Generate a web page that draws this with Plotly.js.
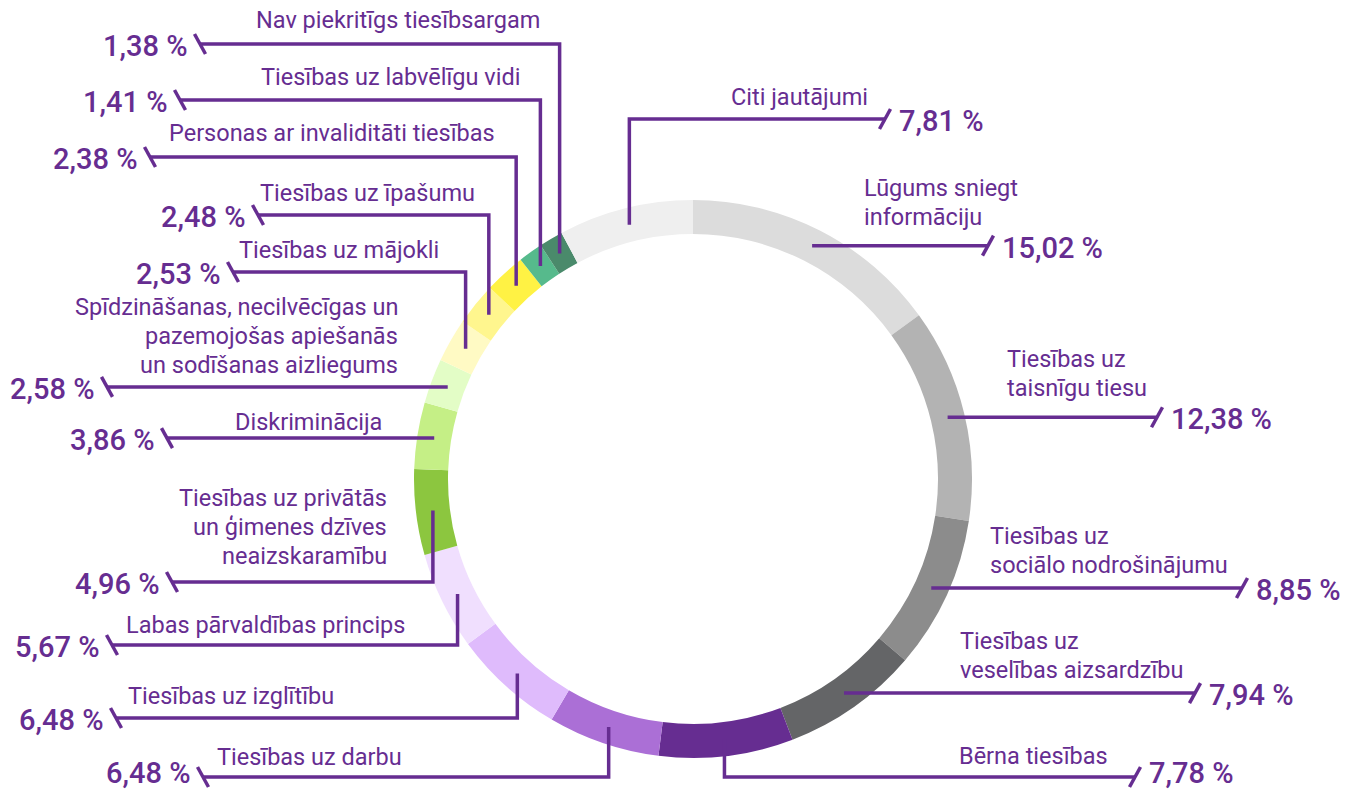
<!DOCTYPE html>
<html>
<head>
<meta charset="utf-8">
<script src="https://cdn.plot.ly/plotly-3.0.1.min.js"></script>
<style>html,body{margin:0;padding:0;background:#fff;}#chart{width:1359px;height:794px;}</style>
</head>
<body>
<div id="chart"></div>
<script>
// ---- DATA ----
const categories = [
  "Lūgums sniegt<br>informāciju",
  "Tiesības uz<br>taisnīgu tiesu",
  "Tiesības uz<br>sociālo nodrošinājumu",
  "Tiesības uz<br>veselības aizsardzību",
  "Bērna tiesības",
  "Tiesības uz darbu",
  "Tiesības uz izglītību",
  "Labas pārvaldības princips",
  "Tiesības uz privātās<br>un ģimenes dzīves<br>neaizskaramību",
  "Diskriminācija",
  "Spīdzināšanas, necilvēcīgas un<br>pazemojošas apiešanās<br>un sodīšanas aizliegums",
  "Tiesības uz mājokli",
  "Tiesības uz īpašumu",
  "Personas ar invaliditāti tiesības",
  "Tiesības uz labvēlīgu vidi",
  "Nav piekritīgs tiesībsargam",
  "Citi jautājumi"
];
const values = [15.02, 12.38, 8.85, 7.94, 7.78, 6.48, 6.48, 5.67, 4.96, 3.86, 2.58, 2.53, 2.48, 2.38, 1.41, 1.38, 7.81];
const colors = ["#dcdcdc","#b3b3b3","#8c8c8c","#646567","#662d91","#ab6fd6","#dfbbfc","#f0dffe",
                "#8cc63f","#c5ef86","#e3fdc6","#fffac4","#fff68e","#fff244","#56ba8c","#4a8a6b","#efefef"];

// ---- LAYOUT (positions in pixels) ----
const W = 1359, H = 794;
const CX = 693, CY = 479, R = 279, RIN = 245;
// side, elbow y (null = straight horizontal), end x, label x, first label line y, label align
const leaders = [
  {side:"R", elbow:null, end:988,  lx:862, ly:188, al:"left"},
  {side:"R", elbow:null, end:1157, lx:1005, ly:359, al:"left"},
  {side:"R", elbow:null, end:1242, lx:988, ly:536, al:"left"},
  {side:"R", elbow:null, end:1195, lx:958, ly:641, al:"left"},
  {side:"R", elbow:777,  end:1135, lx:957, ly:756, al:"left"},
  {side:"L", elbow:777,  end:203,  lx:404, ly:757, al:"right"},
  {side:"L", elbow:718,  end:116,  lx:336, ly:696, al:"right"},
  {side:"L", elbow:645,  end:112,  lx:407, ly:625, al:"right"},
  {side:"L", elbow:582,  end:172,  lx:389, ly:498, al:"right"},
  {side:"L", elbow:null, end:167,  lx:384, ly:422, al:"right"},
  {side:"L", elbow:null, end:107,  lx:400, ly:307, al:"right"},
  {side:"L", elbow:272,  end:233,  lx:441, ly:250, al:"right"},
  {side:"L", elbow:215,  end:258,  lx:477, ly:193, al:"right"},
  {side:"L", elbow:157,  end:150,  lx:497, ly:133, al:"right"},
  {side:"L", elbow:100,  end:180,  lx:522, ly:77,  al:"right"},
  {side:"L", elbow:44,   end:200,  lx:542, ly:20,  al:"right"},
  {side:"R", elbow:119,  end:885,  lx:870, ly:97,  al:"right"}
];
const LINE_H = 29;
const PCT_MAX_Y = 773;
const PURPLE = "#662d91";

const px = x => x / W;
const py = y => 1 - y / H;

const total = values.reduce((a, b) => a + b, 0);
const shapes = [];
const annotations = [];
let cum = 0;
values.forEach((v, i) => {
  const mid = (cum + v / 2) / total * 2 * Math.PI;
  cum += v;
  const rm = (R + RIN) / 2;
  const ax = CX + rm * Math.sin(mid);
  const ay = CY - rm * Math.cos(mid);
  const L = leaders[i];
  const lineY = L.elbow === null ? ay : L.elbow;
  let path;
  if (L.elbow === null) {
    path = `M${px(ax)},${py(ay)} L${px(L.end)},${py(ay)}`;
  } else {
    path = `M${px(ax)},${py(ay)} L${px(ax)},${py(L.elbow)} L${px(L.end)},${py(L.elbow)}`;
  }
  shapes.push({type:"path", xref:"paper", yref:"paper", path:path,
               line:{color:PURPLE, width:3.5}, layer:"above"});
  // slash tick
  const d = L.side === "R" ? 1 : -1;
  shapes.push({type:"line", xref:"paper", yref:"paper",
               x0:px(L.end - 5.5), y0:py(lineY + 10*d), x1:px(L.end + 5.5), y1:py(lineY - 10*d),
               line:{color:PURPLE, width:3.5}, layer:"above"});
  // percent text
  const pct = v.toFixed(2).replace(".", ",") + " %";
  annotations.push({xref:"paper", yref:"paper", showarrow:false, borderpad:0,
    x: px(L.side === "R" ? L.end + 13 : L.end - 11), y: py(Math.min(lineY + 2, PCT_MAX_Y)),
    xanchor: L.side === "R" ? "left" : "right", yanchor:"middle",
    text: pct, font:{family:"Roboto, sans-serif", size:29, color:PURPLE, weight:500}});
  // category label lines
  categories[i].split("<br>").forEach((t, k) => {
    annotations.push({xref:"paper", yref:"paper", showarrow:false,
      x: px(L.lx), y: py(L.ly + k * LINE_H), xanchor: L.al, yanchor:"middle",
      text: t, font:{family:"Roboto, sans-serif", size:23.5, color:PURPLE}});
  });
});

const trace = {
  type:"pie",
  labels: categories.map(c => c.replace(/<br>/g, " ")),
  values: values,
  sort:false,
  direction:"clockwise",
  rotation:0,
  hole: RIN / R,
  marker:{colors:colors, line:{width:0}},
  textinfo:"none",
  hoverinfo:"none",
  showlegend:false,
  domain:{x:[px(CX - R), px(CX + R)], y:[py(CY + R), py(CY - R)]}
};

const layout = {
  width: W, height: H,
  margin:{l:0, r:0, t:0, b:0},
  paper_bgcolor:"#ffffff",
  plot_bgcolor:"#ffffff",
  showlegend:false,
  shapes: shapes,
  annotations: annotations
};

Plotly.newPlot("chart", [trace], layout, {displayModeBar:false, staticPlot:true});
</script>
</body>
</html>
